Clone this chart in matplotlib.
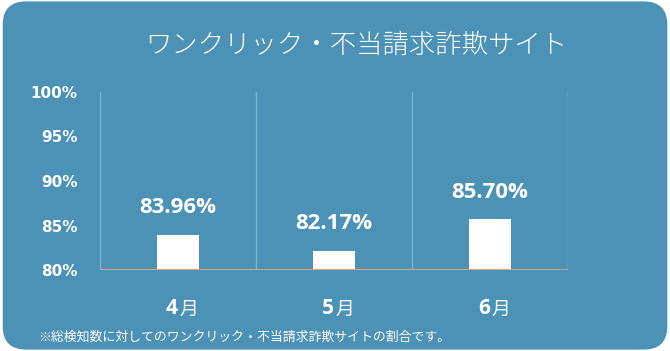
import numpy as np
import matplotlib.pyplot as plt
from matplotlib.patches import FancyBboxPatch

# data
months = ['4', '5', '6']
values = [83.96, 82.17, 85.70]
yticks = [80, 85, 90, 95, 100]
title = 'ワンクリック・不当請求詐欺サイト'
note = '※総検知数に対してのワンクリック・不当請求詐欺サイトの割合です。'

bg = '#4b92b6'
jp = ['Noto Sans CJK JP', 'DejaVu Sans']

fig = plt.figure(figsize=(6.7, 3.51), dpi=100)
fig.patch.set_facecolor('white')

# rounded background panel
panel = FancyBboxPatch((0.004, 0.004), 0.992, 0.992,
                       boxstyle='round,pad=0,rounding_size=0.035',
                       transform=fig.transFigure, facecolor=bg,
                       edgecolor='none', mutation_aspect=670 / 351,
                       zorder=-5)
fig.patches.append(panel)

ax = fig.add_axes([100 / 670, 1 - 270 / 351, 468 / 670, 178 / 351])
ax.set_facecolor('none')
ax.set_zorder(2)

x = np.arange(len(months))
ax.bar(x, values, width=0.27, color='white', zorder=3)
ax.set_xlim(-0.5, len(months) - 0.5)
ax.set_ylim(80, 100)

# separators between months
for b in np.arange(len(months) + 1) - 0.5:
    ax.axvline(b, color='#7fb2cf', lw=1, zorder=1)
ax.axhline(80, color='#d7a585', lw=1.5, zorder=4)

for s in ax.spines.values():
    s.set_visible(False)

ax.set_yticks(yticks)
ax.set_yticklabels(['{}%'.format(t) for t in yticks])
ax.tick_params(axis='y', length=0, pad=16, labelcolor='white')
for lab in ax.get_yticklabels():
    lab.set_fontweight('bold')
    lab.set_fontsize(11)
ax.set_xticks([])

# value labels
for xi, v in zip(x, values):
    ax.annotate('{:.2f}%'.format(v), (xi, v), xytext=(0, 12),
                textcoords='offset points', ha='center', va='bottom',
                color='white', fontsize=16, fontweight='bold',
                family='Open Sans')

# month labels: bold digit + thin 月
for xi, m in zip(x, months):
    ax.annotate(m, (xi, 80), xytext=(0, -20), textcoords='offset points',
                ha='right', va='top', color='white', fontsize=15,
                fontweight='bold', family='Open Sans',
                annotation_clip=False)
    ax.annotate('月', (xi, 80), xytext=(1, -21), textcoords='offset points',
                ha='left', va='top', color='white', fontsize=13.5,
                family=jp, annotation_clip=False)

fig.text(356 / 670, 1 - 45 / 351, title, ha='center', va='center',
         color='white', fontsize=19, family=jp, fontweight='light')
fig.text(38 / 670, 1 - 337 / 351, note, ha='left', va='center',
         color='white', fontsize=9.3, family=jp)

plt.savefig('out.png', dpi=100)
